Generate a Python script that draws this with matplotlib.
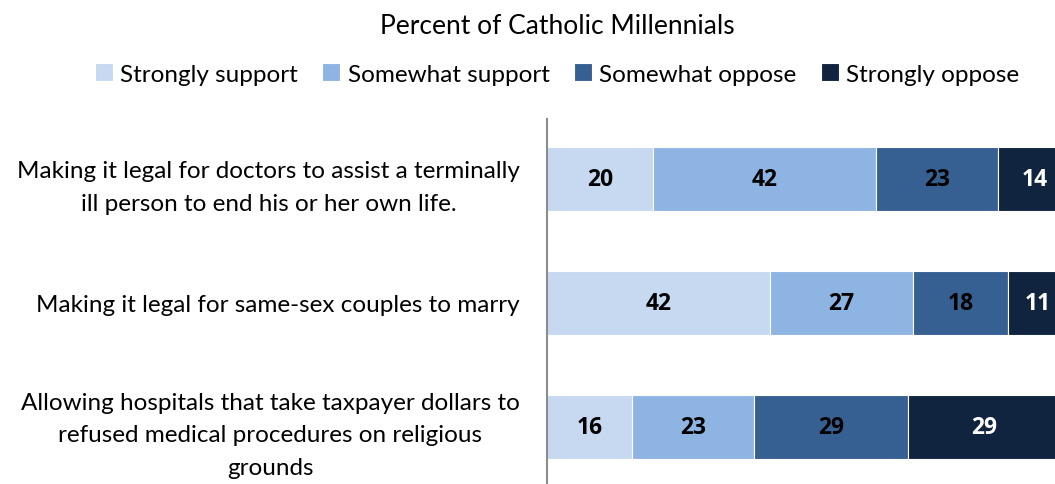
import matplotlib
matplotlib.use("Agg")
import matplotlib.pyplot as plt
import numpy as np

plt.rcParams['font.family'] = ['Lato', 'DejaVu Sans']

# data
questions = [
    "Making it legal for doctors to assist a terminally\nill person to end his or her own life.",
    "Making it legal for same-sex couples to marry",
    "Allowing hospitals that take taxpayer dollars to\nrefused medical procedures on religious\ngrounds",
]
series = ["Strongly support", "Somewhat support", "Somewhat oppose", "Strongly oppose"]
strongly_support = [20, 42, 16]
somewhat_support = [42, 27, 23]
somewhat_oppose = [23, 18, 29]
strongly_oppose = [14, 11, 29]

colors = ["#c6d9f0", "#8eb4e3", "#366092", "#10243f"]
text_colors = ["black", "black", "black", "white"]

fig = plt.figure(figsize=(10.55, 4.85), dpi=100)
ax = fig.add_axes([547/1055, 0, 508/1055, 365/485])

ypos = np.arange(len(questions))
left = np.zeros(len(questions))
for name, vals, c, tc in zip(series, [strongly_support, somewhat_support, somewhat_oppose, strongly_oppose], colors, text_colors):
    vals = np.array(vals, dtype=float)
    bars = ax.barh(ypos, vals, left=left, height=0.52, color=c, edgecolor="white", linewidth=0.8, label=name)
    for b, v, l in zip(bars, vals, left):
        ax.text(l + v/2, b.get_y() + b.get_height()/2, f"{int(v)}", ha="center", va="center",
                fontsize=16.5, fontweight="bold", color=tc, family=["Open Sans", "DejaVu Sans"])
    left += vals

ax.set_xlim(0, 95.8)
ax.set_ylim(2.46, -0.484)
ax.set_yticks(ypos)
ax.set_yticklabels(questions, fontsize=17.5, multialignment="center", linespacing=1.7)
ax.tick_params(axis="y", length=0, pad=19.5)
ax.set_xticks([])
for s in ["top", "right", "bottom"]:
    ax.spines[s].set_visible(False)
ax.spines["left"].set_color("#8c8c8c")
ax.spines["left"].set_linewidth(1.5)

fig.text(557/1055, 1 - 27/485, "Percent of Catholic Millennials", ha="center", va="center", fontsize=19)
fig.legend(loc="center", bbox_to_anchor=(557/1055, 1 - 75/485), ncol=4, frameon=False, fontsize=17.5,
           handlelength=0.75, handleheight=0.75, handletextpad=0.3, columnspacing=1.0, borderaxespad=0)

fig.savefig("out.png", dpi=100)
